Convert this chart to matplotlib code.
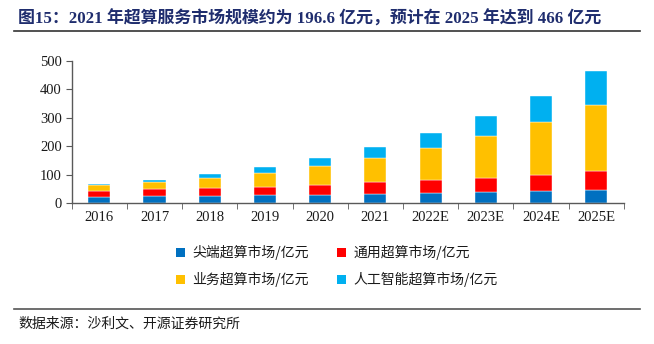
import matplotlib
matplotlib.use("Agg")
import matplotlib.pyplot as plt
from matplotlib.patches import Patch
from matplotlib.lines import Line2D
import numpy as np

# data (亿元)
years = ["2016", "2017", "2018", "2019", "2020", "2021", "2022E", "2023E", "2024E", "2025E"]
top_end = [22, 23, 26, 28, 29, 32, 34, 38, 41, 47]        # 尖端超算
general = [21, 27, 28, 29, 36, 41, 47, 51, 59, 64]        # 通用超算
business = [19, 25, 35, 50, 65, 87, 113, 146, 185, 235]   # 业务超算
ai = [4, 7, 13, 20, 30, 36.6, 51, 71, 92, 120]            # 人工智能超算

series_names = ["尖端超算市场/亿元", "通用超算市场/亿元", "业务超算市场/亿元", "人工智能超算市场/亿元"]
colors = ["#0070C0", "#FF0000", "#FFC000", "#00B0F0"]

cjk = ["Liberation Serif", "Noto Sans CJK SC"]

fig = plt.figure(figsize=(6.54, 3.44), dpi=100)
ax = fig.add_axes([0.1096, 0.4099, 0.8444, 0.4128])

x = np.arange(len(years))
bottom = np.zeros(len(years))
for vals, col in zip([top_end, general, business, ai], colors):
    ax.bar(x, vals, width=0.4, bottom=bottom, color=col, edgecolor="white", linewidth=0.3)
    bottom += np.array(vals)

ax.set_xlim(-0.5, len(years) - 0.5)
ax.set_ylim(0, 500)
ax.set_yticks([0, 100, 200, 300, 400, 500])
ax.set_xticks(x)
ax.set_xticklabels(years)
ax.set_xticks(np.arange(-0.5, len(years)), minor=True)
ax.tick_params(axis="x", which="major", length=0, pad=6)
ax.tick_params(axis="x", which="minor", length=4, color="#595959", direction="out")
ax.tick_params(axis="y", length=4, color="#595959", direction="out", pad=3)
for lab in ax.get_xticklabels() + ax.get_yticklabels():
    lab.set_fontfamily("Liberation Serif")
    lab.set_fontsize(10.5)
    lab.set_color("#1a1a1a")

for s in ["top", "right"]:
    ax.spines[s].set_visible(False)
for s in ["left", "bottom"]:
    ax.spines[s].set_color("#595959")
    ax.spines[s].set_linewidth(1.0)

# legend: matplotlib fills by column, so reorder to get rows 尖端/通用, 业务/人工智能
handles = [Patch(facecolor=c, edgecolor="none") for c in colors]
order = [0, 2, 1, 3]
leg = fig.legend([handles[i] for i in order], [series_names[i] for i in order],
                 loc="upper left", bbox_to_anchor=(0.258, 0.307),
                 ncol=2, frameon=False, handlelength=0.7, handleheight=0.7,
                 handletextpad=0.5, columnspacing=2.0, labelspacing=0.85, borderpad=0,
                 prop={"family": ["Noto Sans CJK SC"], "size": 10})
for t in leg.get_texts():
    t.set_color("#1a1a1a")

# title and source
fig.text(0.028, 0.945, "图15：2021 年超算服务市场规模约为 196.6 亿元，预计在 2025 年达到 466 亿元",
         family=cjk, fontsize=12.2, fontweight="bold", color="#1F2D6E", va="center", ha="left")
fig.add_artist(Line2D([0.021, 0.979], [0.909, 0.909], color="#333333", linewidth=1.2))
fig.add_artist(Line2D([0.021, 0.979], [0.102, 0.102], color="#555555", linewidth=1.2))
fig.text(0.028, 0.060, "数据来源：沙利文、开源证券研究所", family=["Noto Sans CJK SC"],
         fontsize=10, color="#1a1a1a", va="center", ha="left")

fig.savefig("out.png", dpi=100)
